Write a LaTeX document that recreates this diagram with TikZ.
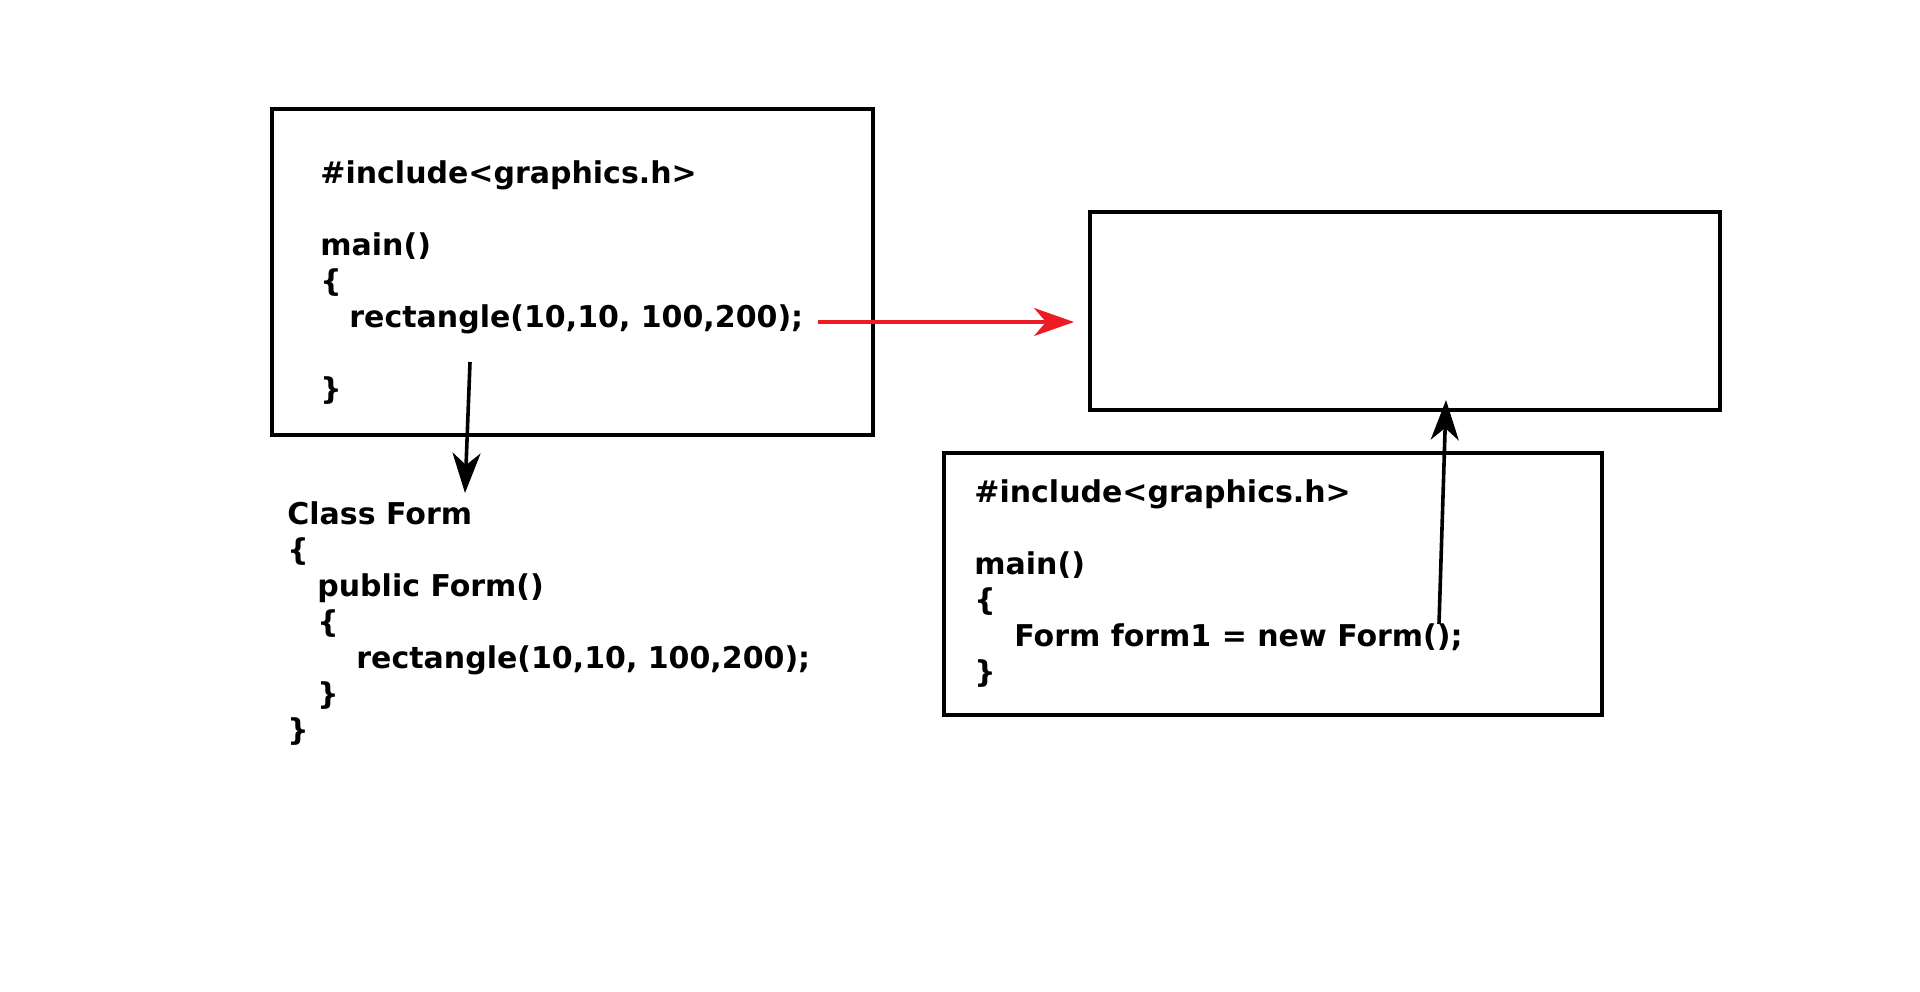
\documentclass[tikz,border=0pt]{standalone}
\usepackage{fontspec}
\setmainfont{DejaVu Sans}
\usetikzlibrary{arrows.meta}

\definecolor{callred}{RGB}{237,28,36}

\tikzset{
  frame/.style={draw, line width=1.8pt, inner sep=0pt},
  code/.style={anchor=base west, inner sep=0pt, align=left,
    font=\fontsize{15}{18}\selectfont\bfseries},
  link/.style={line width=1.8pt, -{Stealth[length=20pt, width=14pt, inset=6pt]}},
}

\begin{document}
\begin{tikzpicture}[x=0.5pt, y=-0.5pt]
    \useasboundingbox (0,0) rectangle (1920,991);

    % frames
    \node[frame, minimum width=300.5pt, minimum height=163pt] (mainbox) at (572.5,272) {};
    \node[frame, minimum width=315pt, minimum height=99pt] (screen) at (1405,311) {};
    \node[frame, minimum width=329pt, minimum height=131pt] (newbox) at (1273,584) {};

    % code (base = last line)
    \node[code] (maincode) at (320,399)
        {\#include<graphics.h>\\[18pt]main()\\\{\\\hspace*{14.5pt}rectangle(10,10, 100,200);\\[18pt]\}};
    \node[code] (classcode) at (287,740)
        {Class Form\\\{\\\hspace*{15pt}public Form()\\\hspace*{15pt}\{\\\hspace*{34.5pt}rectangle(10,10, 100,200);\\\hspace*{15pt}\}\\\}};
    \node[code] (newcode) at (974,682)
        {\#include<graphics.h>\\[18pt]main()\\\{\\\hspace*{20pt}Form form1 = new Form();\\\}};

    % arrows
    \coordinate (redS) at (818,322);
    \coordinate (redE) at (1074,322);
    \coordinate (downS) at (470,362);
    \coordinate (downE) at (465,493);
    \coordinate (upS) at (1439,624);
    \coordinate (upE) at (1446,400);

    \draw[link, callred, line width=1.7pt] (redS) -- (redE);
    \draw[link] (downS) -- (downE);
    \draw[link] (upS) -- (upE);
\end{tikzpicture}
\end{document}
